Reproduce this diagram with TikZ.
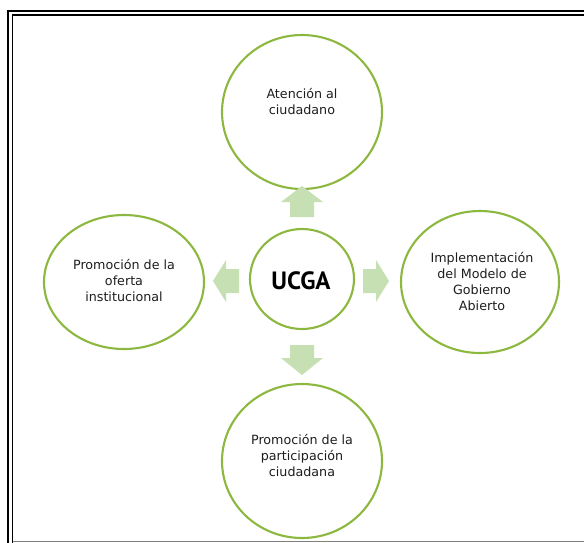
\documentclass[tikz,border=0pt]{standalone}
\usepackage{fontspec}
\usetikzlibrary{shapes.geometric}
\setmainfont{DejaVu Sans}
\newfontfamily\ucgafont{PT Sans}
\begin{document}
\begin{tikzpicture}[x=1pt,y=-1pt]
\definecolor{ringgreen}{HTML}{8DB83F}
\definecolor{arrowgreen}{HTML}{C6E0B4}
\definecolor{txt}{HTML}{1E1E1E}
\tikzset{
  ring/.style={draw=ringgreen, line width=2.1pt, fill=white, ellipse, inner sep=0pt},
  lbl/.style={align=center, text=txt, font=\fontsize{12.7}{16}\selectfont},
  garrow/.style={fill=arrowgreen, draw=none}
}
\useasboundingbox (0,0) rectangle (584,542);
\fill[white] (0,0) rectangle (584,542);
% frame
\draw[line width=2pt] (8,545) -- (8,11) -- (590,11);
\draw[line width=1.4pt] (12.5,545) -- (12.5,15) -- (590,15);
\draw[line width=1pt, gray] (13,541) -- (590,541);
% rings
\node[ring, minimum width=160pt, minimum height=154pt] (ctop) at (302,112) {};
\node[ring, minimum width=160pt, minimum height=154pt] (cbot) at (302,461) {};
\node[ring, minimum width=160pt, minimum height=134pt] (clft) at (124,282) {};
\node[ring, minimum width=158pt, minimum height=142pt] (crgt) at (480,282) {};
\node[ring, minimum width=104pt, minimum height=100pt] (cmid) at (302,279) {};
% labels
\node[lbl] (top) at (302,102) {Atención al\\ciudadano};
\node[lbl] (bot) at (302,456) {Promoción de la\\participación\\ciudadana};
\node[lbl] (lft) at (124,281) {Promoción de la\\oferta\\institucional};
\node[lbl] (rgt) at (482,282) {Implementación\\del Modelo de\\Gobierno\\Abierto};
\node[font=\fontsize{25}{28}\ucgafont\bfseries, text=black] (ucga) at (301,281) {UCGA};
% arrows
\fill[garrow] (302,186) -- (323,202) -- (314,202) -- (314,217) -- (290,217) -- (290,202) -- (281,202) -- cycle;
\fill[garrow] (302,375) -- (323,358) -- (314,358) -- (314,345) -- (290,345) -- (290,358) -- (281,358) -- cycle;
\fill[garrow] (213,281) -- (226,260) -- (226,269) -- (239,269) -- (239,293) -- (226,293) -- (226,302) -- cycle;
\fill[garrow] (389,281) -- (376,260) -- (376,269) -- (363,269) -- (363,293) -- (376,293) -- (376,302) -- cycle;
\end{tikzpicture}
\end{document}
